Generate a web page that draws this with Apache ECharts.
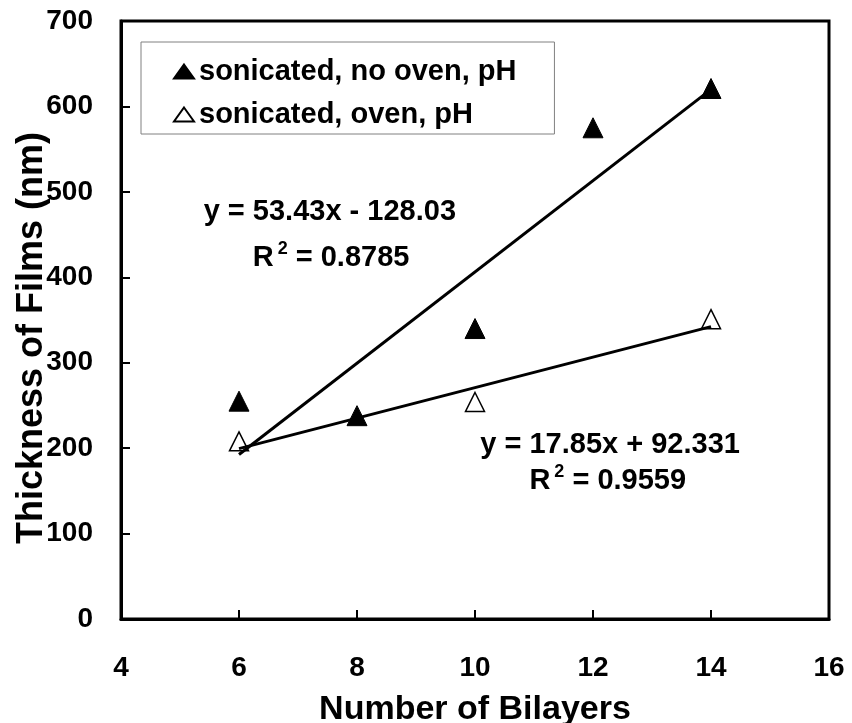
<!DOCTYPE html>
<html>
<head>
<meta charset="utf-8">
<script src="https://cdn.jsdelivr.net/npm/echarts@6/dist/echarts.min.js"></script>
<style>html,body{margin:0;padding:0;background:#fff;}#c{width:852px;height:723px;}</style>
</head>
<body>
<div id="c"></div>
<script>
// ---- data ----
const bilayersFilled = [6, 8, 10, 12, 14];
const thicknessFilled = [255, 238, 340, 575, 621];
const bilayersOpen = [6, 10, 14];
const thicknessOpen = [208, 254, 351];
const seriesNames = ['sonicated, no oven, pH', 'sonicated, oven, pH'];
const trendSlopes = [53.43, 17.85];
const trendIntercepts = [-128.03, 92.331];
const trendRange = [6, 14];
const eqTexts = ['y = 53.43x - 128.03', 'y = 17.85x + 92.331'];
const r2Texts = ['0.8785', '0.9559'];
const xTicks = [4, 16, 2];
const yTicks = [0, 700, 100];

// annotation anchors (data units)
const eqAnchors = [[7.54, 477], [12.29, 204]];
const r2Anchors = [[7.56, 423], [12.25, 161]];

const FF = "'Liberation Sans', Arial, Helvetica, sans-serif";
const chart = echarts.init(document.getElementById('c'), null, {renderer: 'canvas'});

function trendData(i) {
  return trendRange.map(x => [x, trendSlopes[i] * x + trendIntercepts[i]]);
}

const textBase = {fontFamily: FF, fontWeight: 'bold', color: '#000'};

const option = {
  animation: false,
  backgroundColor: '#fff',
  grid: {left: 121, right: 23, top: 21, bottom: 104, show: true, borderColor: '#000', borderWidth: 3,
         outerBoundsMode: 'none', containLabel: false},
  legend: {
    orient: 'vertical', left: 141, top: 42,
    padding: [15, 38, 5, 32], itemGap: 14,
    itemWidth: 20, itemHeight: 14,
    borderColor: '#808080', borderWidth: 1,
    data: [{name: seriesNames[0], icon: 'triangle'}, {name: seriesNames[1], icon: 'triangle'}],
    textStyle: Object.assign({fontSize: 29}, textBase)
  },
  xAxis: {
    type: 'value', min: xTicks[0], max: xTicks[1], interval: xTicks[2],
    axisLine: {show: true, onZero: false, lineStyle: {color: '#000', width: 3}},
    axisTick: {show: true, inside: true, length: 9, lineStyle: {color: '#000', width: 2}},
    axisLabel: Object.assign({margin: 35, fontSize: 28}, textBase),
    splitLine: {show: false},
    name: 'Number of Bilayers', nameLocation: 'middle', nameGap: 74, nameMoveOverlap: false,
    nameTextStyle: Object.assign({fontSize: 34}, textBase)
  },
  yAxis: {
    type: 'value', min: yTicks[0], max: yTicks[1], interval: yTicks[2],
    axisLine: {show: true, onZero: false, lineStyle: {color: '#000', width: 3}},
    axisTick: {show: true, inside: true, length: 9, lineStyle: {color: '#000', width: 2}},
    axisLabel: Object.assign({margin: 28, fontSize: 28}, textBase),
    splitLine: {show: false},
    name: 'Thickness of Films (nm)', nameLocation: 'middle', nameGap: 71, nameMoveOverlap: false,
    nameTextStyle: Object.assign({fontSize: 36, padding: [0, 36, 0, 0]}, textBase)
  },
  series: [
    {
      name: seriesNames[0], type: 'scatter', symbol: 'triangle', symbolSize: [20, 20], z: 3,
      itemStyle: {color: '#000', borderColor: '#000', borderWidth: 1, opacity: 1},
      data: bilayersFilled.map((x, i) => [x, thicknessFilled[i]])
    },
    {
      name: seriesNames[1], type: 'scatter', symbol: 'triangle', symbolSize: [19, 19], z: 4,
      itemStyle: {color: '#fff', borderColor: '#000', borderWidth: 1.5, opacity: 1},
      data: bilayersOpen.map((x, i) => [x, thicknessOpen[i]])
    },
    {
      type: 'line', data: trendData(0), symbol: 'none', z: 5, silent: true,
      lineStyle: {color: '#000', width: 3}
    },
    {
      type: 'line', data: trendData(1), symbol: 'none', z: 5, silent: true,
      lineStyle: {color: '#000', width: 3}
    },
    {
      type: 'scatter', symbolSize: 0, z: 6, silent: true,
      itemStyle: {opacity: 1, color: '#000'},
      data: eqAnchors.map((p, i) => ({value: p, label: {formatter: eqTexts[i]}})),
      label: Object.assign({show: true, position: 'inside', fontSize: 29, opacity: 1}, textBase)
    },
    {
      type: 'scatter', symbolSize: 0, z: 6, silent: true,
      itemStyle: {opacity: 1, color: '#000'},
      data: r2Anchors.map((p, i) => ({value: p, label: {formatter: '{b|R}{s|2}{b| = ' + r2Texts[i] + '}'}})),
      label: {
        show: true, position: 'inside', color: '#000', opacity: 1,
        rich: {
          b: Object.assign({fontSize: 29, lineHeight: 36}, textBase),
          s: Object.assign({fontSize: 18, lineHeight: 18, verticalAlign: 'top', padding: [0, 0, 0, 4]}, textBase)
        }
      }
    }
  ]
};
chart.setOption(option);
</script>
</body>
</html>
